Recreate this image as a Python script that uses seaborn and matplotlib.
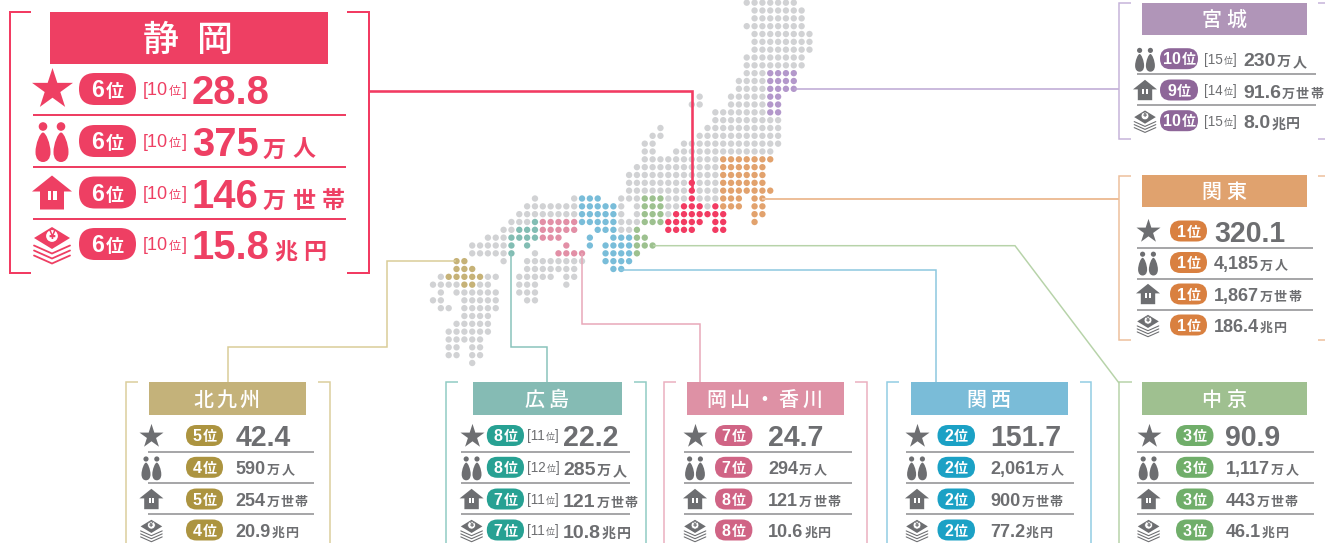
import numpy as np
import pandas as pd
import seaborn as sns
import matplotlib
matplotlib.use('Agg')
import matplotlib.pyplot as plt
from matplotlib.patches import Circle, FancyBboxPatch, Polygon, Rectangle, PathPatch
from matplotlib.path import Path

# values per region, same order in every list
regions = ['静岡', '宮城', '関東', '北九州', '広島', '岡山・香川', '関西', '中京']

star_rank = ['6', None, '1', '5', '8', '7', '2', '3']
star_sub = ['10', None, None, None, '11', None, None, None]
star_val = ['28.8', None, '320.1', '42.4', '22.2', '24.7', '151.7', '90.9']

people_rank = ['6', '10', '1', '4', '8', '7', '2', '3']
people_sub = ['10', '15', None, None, '12', None, None, None]
people_val = ['375', '230', '4,185', '590', '285', '294', '2,061', '1,117']

house_rank = ['6', '9', '1', '5', '7', '8', '2', '3']
house_sub = ['10', '14', None, None, '11', None, None, None]
house_val = ['146', '91.6', '1,867', '254', '121', '121', '900', '443']

money_rank = ['6', '10', '1', '4', '7', '8', '2', '3']
money_sub = ['10', '15', None, None, '11', None, None, None]
money_val = ['15.8', '8.0', '186.4', '20.9', '10.8', '10.6', '77.2', '46.1']

metric_units = ['', '万人', '万世帯', '兆円']

# dot map, one string per grid row: region letter + column range
map_rows = [
    'o40-46', 'o41-47', 'o41-47', 'o40-47', 'o41-48', 'o41-48', 'o41-48', 'o40-47', 'o40-47',
    'o40-42 M43-46', 'o39-42 M43-46', 'o39-42 M43-46',
    'o34-34 o38-42 M43-44', 'o33-34 o38-42 M43-44', 'o36-42 M43-44', 'o36-44',
    'o29-29 o35-44', 'o28-29 o34-44', 'o27-28 o32-44', 'o27-28 o31-43',
    'o27-36 K37-43', 'o26-36 K37-42', 'o25-36 K37-42',
    'o25-32 S33-33 o34-36 K37-42',
    'o25-32 S33-33 o34-36 K37-43',
    'o13-13 o18-18 W19-21 o24-26 C27-29 o30-32 S33-33 o34-36 K37-39 K41-42',
    'o12-18 W19-23 o24-24 o26-26 C27-29 o30-31 S32-34 o35-35 S36-36 K37-39 K41-42',
    'o11-18 W19-23 o24-24 o26-26 C27-29 o30-30 S31-37 K41-42',
    'o10-12 H13-13 O14-18 W19-23 o24-26 C27-29 S30-34 S36-37 K41-41',
    'o9-10 H11-13 O14-18 W21-23 o24-25 C26-26 S30-33 S36-37',
    'o7-9 H10-13 O14-16 W20-20 W23-25 C26-27',
    'o5-9 H10-10 H12-12 O17-17 W20-20 W22-25 C26-28',
    'o5-9 H10-10 o13-13 O16-19 W22-25 C26-26',
    'Q3-4 o9-9 o12-19 W22-25',
    'Q3-5 o12-18 W23-24',
    'o1-1 Q2-6 o7-8 o11-15 o17-18',
    'o0-3 Q4-5 o6-7 o11-13 o17-17',
    'o1-1 o3-8 o11-13',
    'o0-1 o4-8 o12-13',
    'o1-2 o4-8',
    'o4-7', 'o3-7', 'o2-7', 'o2-6', 'o2-3 o5-6', 'o2-3 o5-6', 'o5-5',
]

dot_colors = {'o': '#D1D2D4', 'S': '#F23B62', 'M': '#B398CB', 'K': '#E2A26D', 'Q': '#C6B277',
              'H': '#82BDB3', 'O': '#E28FA6', 'W': '#79BDD9', 'C': '#9DC18F'}

GRAY = '#6D6E71'
JP = ['Liberation Sans', 'Noto Sans CJK JP']

sns.set_theme(style='white')
plt.rcParams['font.family'] = JP

fig = plt.figure(figsize=(13.25, 5.43), dpi=100)
ax = fig.add_axes([0, 0, 1, 1])

records = []
for r, row in enumerate(map_rows):
    for run in row.split():
        start, end = run[1:].split('-')
        for c in range(int(start), int(end) + 1):
            records.append({'col': c, 'row': r, 'region': run[0]})
dots = pd.DataFrame(records)
dots['x'] = 433 + 7.843 * dots['col']
dots['y'] = 2.67 + 7.833 * dots['row']
sns.scatterplot(data=dots, x='x', y='y', hue='region', palette=dot_colors, s=21, linewidth=0,
                legend=False, ax=ax, zorder=3)

ax.set_xlim(0, 1325)
ax.set_ylim(543, 0)
ax.axis('off')
rend = fig.canvas.get_renderer()


def px(v):
    return v * 0.72


def link(xs, ys, color, w=1.5, z=4):
    ax.plot(xs, ys, color=color, lw=px(w), solid_joinstyle='miter', solid_capstyle='butt', zorder=z)


def draw_icon_people(cx, cy, s, color):
    for dx in (-9, 9):
        ax.add_patch(Circle((cx + dx * s, cy - 15.5 * s), 4.3 * s, fc=color, ec='none', zorder=5))
        x0 = cx + dx * s
        verts = [(0, -9.5), (3, -9.5), (7.5, 2), (7.5, 10), (7.5, 17), (4, 20), (0, 20),
                 (-4, 20), (-7.5, 17), (-7.5, 10), (-7.5, 2), (-3, -9.5), (0, -9.5)]
        codes = [Path.MOVETO] + [Path.CURVE4] * 12
        verts = [(x0 + a * s, cy + b * s) for a, b in verts]
        ax.add_patch(PathPatch(Path(verts, codes), fc=color, ec='none', zorder=5))


def draw_icon_house(cx, cy, s, color):
    pts = [(0, -17), (20, -1), (12, -1), (12, 17), (-12, 17), (-12, -1), (-20, -1)]
    ax.add_patch(Polygon([(cx + a * s, cy + b * s) for a, b in pts], fc=color, ec='none', zorder=5))
    for a in (-4.5, 1):
        ax.add_patch(Rectangle((cx + a * s, cy - 2 * s), 3.5 * s, 9 * s, fc='white', ec='none', zorder=6))


def draw_icon_money(cx, cy, s, color):
    top = [(0, -17), (18, -6), (0, 5), (-18, -6)]
    ax.add_patch(Polygon([(cx + a * s, cy + b * s) for a, b in top], fc=color, ec='none', zorder=5))
    ax.add_patch(Circle((cx, cy - 8 * s), 6.5 * s, fc='white', ec=color, lw=px(1.2 * s), zorder=6))
    ax.text(cx, cy - 8 * s, '¥', fontsize=9 * s, color=color, weight='bold', ha='center', va='center', zorder=7)
    for off in (0, 5, 10):
        pts = [(-18, 1.5 + off), (0, 9.5 + off), (18, 1.5 + off)]
        ax.plot([cx + a * s for a, b in pts], [cy + b * s for a, b in pts], color=color,
                lw=px(1.8 * s), solid_joinstyle='miter', zorder=5)


def put_chars(x, base, chars, em, color, gap, weight='bold', z=7):
    for ch in chars:
        ax.text(x, base, ch, fontsize=px(em), color=color, weight=weight, ha='left', va='baseline', zorder=z)
        x += em + gap
    return x


def put_pill(x0, x1, cy, h, label, color, digit_em, kanji_em):
    ax.add_patch(FancyBboxPatch((x0, cy - h / 2), x1 - x0, h, boxstyle=f'round,pad=0,rounding_size={h / 2}',
                                fc=color, ec='none', zorder=5))
    base = cy + 0.36 * digit_em
    t = ax.text(0, base, label, fontsize=px(digit_em), color='white', weight='bold', va='baseline', zorder=7)
    w = t.get_window_extent(rend).width
    start = (x0 + x1) / 2 - (w + 1 + kanji_em) / 2
    t.set_x(start)
    ax.text(start + w + 1, base, '位', fontsize=px(kanji_em), color='white', weight='bold', va='baseline', zorder=7)


def put_sub(x, cy, label, color, em, kanji_em):
    base = cy + 0.36 * em
    t = ax.text(x, base, '[' + label, fontsize=px(em), color=color, va='baseline', zorder=7)
    x1 = t.get_window_extent(rend).x1
    ax.text(x1 + 1, base, '位', fontsize=px(kanji_em), color=color, va='baseline', zorder=7)
    ax.text(x1 + kanji_em + 1.5, base, ']', fontsize=px(em), color=color, va='baseline', zorder=7)


# connector lines from the map to each panel
link([369, 692, 692], [90.7, 90.7, 190], '#F23B62', 2.6)
link([794, 1119], [89, 89], '#BBA5D2')
link([762, 1119], [199, 199], '#EDBF9A', 2)
link([653, 1015, 1119], [245.7, 245.7, 383], '#B7D3A9')
link([620, 936, 936], [269.5, 269.5, 382], '#8AC7DF')
link([582, 582, 700, 700], [253, 324, 324, 382], '#E8A7B8')
link([511.3, 511.3, 547.3, 547.3], [253, 346.7, 346.7, 382], '#88C3BB')
link([456, 387, 387, 228, 228], [261, 261, 347, 347, 382], '#D9CC96')

# layout of each panel, in pixels of the output picture
panels = [
    dict(i=0, left=10, arm_l=31, right=369, arm_r=347, top=12, bottom=272.5, title=(50, 328, 12, 64), t_em=36, t_gap=18,
         line='#F23B62', head='#EE3F63', pill='#EE3F63', text='#EE3F63', rows=[89, 141, 192.5, 244],
         rules=[115, 167, 219], rule_x=(33, 346), rule_c='#EE3F63', icon_x=52, pill_x=(79, 136), sub_x=143, num_x=192, big=True),
    dict(i=1, left=1119, arm_l=1131, right=1332, arm_r=1318, top=3, bottom=139, title=(1142, 1307, 3, 35), t_em=20, t_gap=5,
         line='#C5B3D9', head='#B095B8', pill='#8E6699', text=GRAY, rows=[58.7, 90, 120.7],
         rules=[73.5, 105], rule_x=(1137, 1316), rule_c='#8A8B8D', icon_x=1145, pill_x=(1160, 1198), sub_x=1204, num_x=1243, big=False),
    dict(i=2, left=1119, arm_l=1131, right=1332, arm_r=1318, top=176, bottom=339.5, title=(1142, 1307, 175, 207), t_em=20, t_gap=5,
         line='#EDBF9A', head='#E0A26E', pill='#D98040', text=GRAY, rows=[231, 262.5, 294, 325],
         rules=[248, 278.7, 310], rule_x=(1137, 1313), rule_c='#8A8B8D', icon_x=1148, pill_x=(1170, 1207), sub_x=None, num_x=1214, big=False),
    dict(i=3, left=125.5, arm_l=137.6, right=329.6, arm_r=317.8, top=382, bottom=560, title=(149, 306, 382, 414.5), t_em=20, t_gap=3.5,
         line='#DACD9B', head='#C4B27A', pill='#AC9440', text=GRAY, rows=[435.5, 467.3, 499, 530],
         rules=[452, 483, 514], rule_x=(148, 314), rule_c='#8A8B8D', icon_x=151.4, pill_x=(186, 223), sub_x=None, num_x=235.5, big=False),
    dict(i=4, left=445.6, arm_l=458, right=645.7, arm_r=634, top=382, bottom=560, title=(473, 622, 382, 414.5), t_em=20, t_gap=3.5,
         line='#8FCBC2', head='#85BBB4', pill='#27A193', text=GRAY, rows=[435.5, 467.3, 499, 530],
         rules=[452, 483, 514], rule_x=(461.4, 630), rule_c='#8A8B8D', icon_x=471.6, pill_x=(486.8, 524), sub_x=527, num_x=563, big=False),
    dict(i=5, left=663.5, arm_l=675.5, right=867.4, arm_r=854.6, top=382, bottom=560, title=(687, 844, 382, 414.5), t_em=20, t_gap=4,
         line='#EBAEBE', head='#DE91A5', pill='#D06485', text=GRAY, rows=[435.5, 467.3, 499, 530],
         rules=[452, 483, 514], rule_x=(684, 852), rule_c='#8A8B8D', icon_x=695, pill_x=(715, 752.4), sub_x=None, num_x=768, big=False),
    dict(i=6, left=887, arm_l=899.4, right=1091, arm_r=1079.8, top=382, bottom=560, title=(911, 1068, 382, 414.5), t_em=20, t_gap=5,
         line='#90CCE3', head='#7ABCD8', pill='#1BA1C5', text=GRAY, rows=[435.5, 467.3, 499, 530],
         rules=[452, 483, 514], rule_x=(906, 1074), rule_c='#8A8B8D', icon_x=917, pill_x=(937.5, 975), sub_x=None, num_x=990, big=False),
    dict(i=7, left=1118.7, arm_l=1131.5, right=None, arm_r=None, top=382, bottom=560, title=(1142, 1307, 382, 414.5), t_em=20, t_gap=5,
         line='#B6D3A8', head='#9FC090', pill='#70AE6A', text=GRAY, rows=[435.5, 467.3, 499, 530],
         rules=[452, 483, 514], rule_x=(1137, 1313.5), rule_c='#8A8B8D', icon_x=1148.6, pill_x=(1176, 1213.5), sub_x=None, num_x=1225.5, big=False),
]

metrics = [(star_rank, star_sub, star_val), (people_rank, people_sub, people_val),
           (house_rank, house_sub, house_val), (money_rank, money_sub, money_val)]

for p in panels:
    i = p['i']
    big = p['big']
    bw = 2 if big else 1.5
    has_sub = p['sub_x'] is not None

    # bracket
    link([p['arm_l'], p['left'], p['left'], p['arm_l']], [p['top'], p['top'], p['bottom'], p['bottom']], p['line'], bw)
    if p['right'] is not None:
        link([p['arm_r'], p['right'], p['right'], p['arm_r']], [p['top'], p['top'], p['bottom'], p['bottom']], p['line'], bw)

    # title box
    x0, x1, y0, y1 = p['title']
    ax.add_patch(Rectangle((x0, y0), x1 - x0, y1 - y0, fc=p['head'], ec='none', zorder=5))
    name = regions[i]
    em, gap = p['t_em'], p['t_gap']
    total = len(name) * em + (len(name) - 1) * gap
    put_chars((x0 + x1) / 2 - total / 2 - 1, (y0 + y1) / 2 + 0.37 * em, name, em, 'white', gap, weight='medium')

    # rules
    for ry in p['rules']:
        link(list(p['rule_x']), [ry, ry], p['rule_c'], 2 if big else 1.5, z=2)

    # metric rows
    active = [m for m, vals in enumerate(metrics) if vals[0][i] is not None]
    for cy, m in zip(p['rows'], active):
        rank, sub, val = metrics[m][0][i], metrics[m][1][i], metrics[m][2][i]

        s = 1.0 if big else 0.6
        if m == 0:
            ax.scatter([p['icon_x']], [cy], marker='*', s=960 if big else 331, color=p['text'], linewidth=0, zorder=5)
        elif m == 1:
            draw_icon_people(p['icon_x'], cy + 1, s, p['text'])
        elif m == 2:
            draw_icon_house(p['icon_x'], cy, s, p['text'])
        else:
            draw_icon_money(p['icon_x'], cy, s, p['text'])

        put_pill(p['pill_x'][0], p['pill_x'][1], cy, 32 if big else 21, rank, p['pill'], 23 if big else 16, 18 if big else 14)
        if sub is not None:
            put_sub(p['sub_x'], cy, sub, p['text'], 18 if big else 13.5, 12 if big else 9)

        if big:
            num_em = 40
        elif m == 0:
            num_em = 28.5
        elif has_sub:
            num_em = 19.5
        else:
            num_em = 18
        base = cy + 0.36 * num_em + (1 if big else 0.5)
        t = ax.text(p['num_x'], base, val, fontsize=px(num_em), color=p['text'], weight='bold', va='baseline', zorder=7)
        end = t.get_window_extent(rend).x1
        unit = metric_units[m]
        if unit:
            if big:
                put_chars(end + 4, base, unit, 23, p['text'], 6.5)
            elif unit == '万世帯':
                put_chars(end + 1, base, unit, 13, p['text'], 1)
            else:
                put_chars(end + 1, base, unit, 14 if has_sub else 13, p['text'], 2 if unit != '兆円' else 1)

fig.savefig('out.png', dpi=100, facecolor='white')
